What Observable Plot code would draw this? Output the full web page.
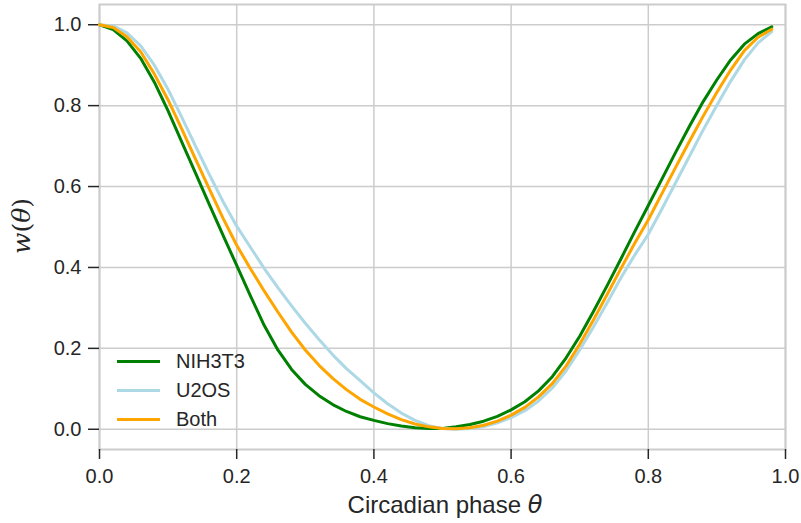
<!DOCTYPE html>
<html>
<head>
<meta charset="utf-8">
<script src="https://cdn.jsdelivr.net/npm/d3@7"></script>
<script src="https://cdn.jsdelivr.net/npm/@observablehq/plot@0.6"></script>
<style>
  body { margin: 0; background: #fff; }
  #wrap { position: relative; width: 801px; height: 523px; }
  #legend { position: absolute; left: 117px; top: 347px; font-family: "Liberation Sans", Arial, sans-serif; font-size: 20px; color: #262626; }
  .row { display: flex; align-items: center; height: 29px; }
  .sw { width: 43px; height: 3px; margin-right: 16px; }
</style>
</head>
<body>
<div id="wrap"><div id="legend"></div></div>
<script>
const theta = [0,0.02,0.04,0.06,0.08,0.10,0.12,0.14,0.16,0.18,0.20,0.22,0.24,0.26,0.28,0.30,0.32,0.34,0.36,0.38,0.40,0.42,0.44,0.46,0.48,0.50,0.52,0.54,0.56,0.58,0.60,0.62,0.64,0.66,0.68,0.70,0.72,0.74,0.76,0.78,0.80,0.82,0.84,0.86,0.88,0.90,0.92,0.94,0.96,0.98];
const nih3t3 = [1.000,0.988,0.960,0.917,0.858,0.787,0.710,0.633,0.556,0.480,0.405,0.330,0.257,0.196,0.148,0.111,0.083,0.061,0.044,0.031,0.022,0.014,0.008,0.004,0.002,0.002,0.006,0.012,0.020,0.032,0.048,0.068,0.095,0.130,0.176,0.230,0.291,0.355,0.421,0.488,0.553,0.619,0.685,0.749,0.810,0.864,0.913,0.952,0.978,0.995];
const u2os = [1.000,0.997,0.980,0.948,0.900,0.840,0.771,0.700,0.630,0.563,0.502,0.450,0.398,0.350,0.305,0.262,0.222,0.184,0.150,0.120,0.090,0.063,0.040,0.022,0.009,0.002,0.000,0.002,0.007,0.016,0.029,0.046,0.070,0.102,0.144,0.196,0.253,0.313,0.374,0.430,0.482,0.545,0.610,0.675,0.740,0.801,0.860,0.913,0.955,0.983];
const both = [1.000,0.993,0.970,0.933,0.878,0.814,0.742,0.668,0.594,0.522,0.455,0.397,0.342,0.290,0.240,0.196,0.158,0.126,0.098,0.074,0.055,0.038,0.024,0.013,0.006,0.002,0.001,0.004,0.010,0.020,0.035,0.054,0.080,0.113,0.156,0.210,0.270,0.333,0.397,0.459,0.518,0.583,0.648,0.712,0.774,0.833,0.888,0.936,0.969,0.989];
const seriesNames = ["NIH3T3", "U2OS", "Both"];
const seriesColors = ["green", "lightblue", "orange"];
const xTicks = [0, 0.2, 0.4, 0.6, 0.8, 1.0];
const yTicks = [0, 0.2, 0.4, 0.6, 0.8, 1.0];

const seriesValues = [nih3t3, u2os, both];
const rows = [];
seriesNames.forEach((name, i) => {
  theta.forEach((t, j) => rows.push({series: name, theta: t, w: seriesValues[i][j]}));
});

const fmt = d3.format(".1f");
const svg = Plot.plot({
  width: 801, height: 523,
  marginLeft: 99, marginRight: 16, marginTop: 4, marginBottom: 74,
  x: {domain: [0, 1]},
  y: {domain: [-0.05, 1.05]},
  color: {domain: seriesNames, range: seriesColors},
  style: {fontFamily: "'Liberation Sans', Arial, sans-serif", fontSize: "20px", color: "#262626", background: "white"},
  marks: [
    Plot.gridX(xTicks, {stroke: "#cccccc", strokeOpacity: 1, strokeWidth: 1.5}),
    Plot.gridY(yTicks, {stroke: "#cccccc", strokeOpacity: 1, strokeWidth: 1.5}),
    Plot.frame({stroke: "#cccccc", strokeWidth: 2}),
    Plot.axisX(xTicks, {tickSize: 10, tickPadding: 9, tickFormat: fmt, label: null, strokeWidth: 1.5, fontSize: 20}),
    Plot.axisY(yTicks, {tickSize: 11, tickPadding: 7, tickFormat: fmt, label: null, strokeWidth: 1.5, fontSize: 20}),
    Plot.line(rows, {x: "theta", y: "w", stroke: "series", strokeWidth: 3, z: "series", strokeLinejoin: "round"})
  ]
});

const s = d3.select(svg);
const xl = s.append("text")
  .attr("x", 445).attr("y", 513)
  .attr("text-anchor", "middle")
  .attr("fill", "#262626")
  .style("font-family", "'Liberation Sans', Arial, sans-serif")
  .style("font-size", "24px");
xl.append("tspan").text("Circadian phase ");
xl.append("tspan").style("font-style", "italic").style("font-family", "'DejaVu Sans', sans-serif").text("θ");

const yl = s.append("text")
  .attr("transform", "translate(30,226) rotate(-90)")
  .attr("text-anchor", "middle")
  .attr("fill", "#262626")
  .style("font-family", "'DejaVu Serif', serif")
  .style("font-size", "25px");
yl.append("tspan").style("font-style", "italic").text("w");
yl.append("tspan").text("(");
yl.append("tspan").style("font-style", "italic").text("θ");
yl.append("tspan").text(")");

const wrap = document.getElementById("wrap");
wrap.insertBefore(svg, wrap.firstChild);
const legend = d3.select("#legend");
seriesNames.forEach((name, i) => {
  const r = legend.append("div").attr("class", "row");
  r.append("div").attr("class", "sw").style("background", seriesColors[i]);
  r.append("span").text(name);
});
</script>
</body>
</html>
